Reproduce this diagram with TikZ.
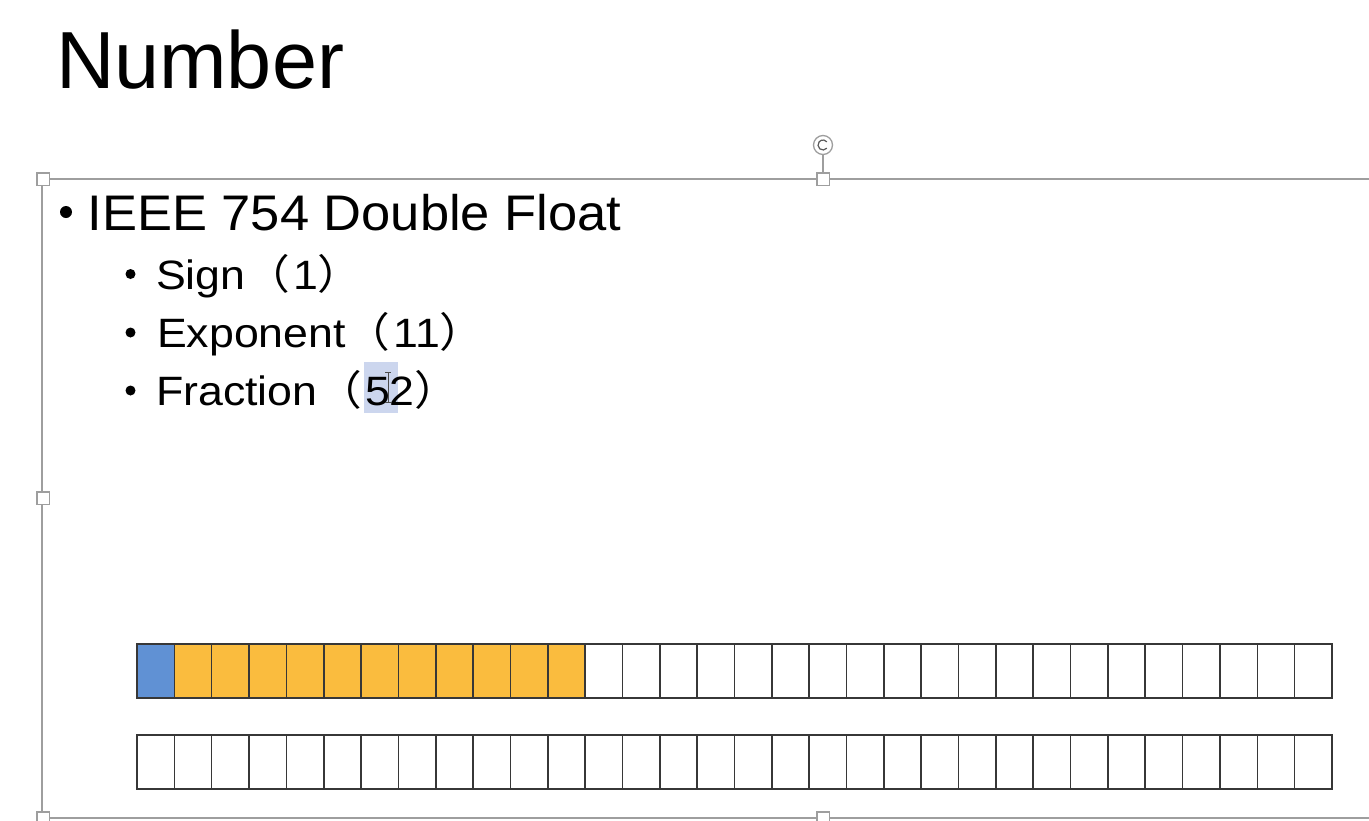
\documentclass[tikz,border=0pt]{standalone}
\usepackage{fontspec}
\setmainfont{Liberation Sans}
\newfontfamily\cjk{Noto Sans CJK SC}
\newfontfamily\wideA[FakeStretch=1.05]{Liberation Sans}
\newfontfamily\wideB[FakeStretch=1.09]{Liberation Sans}
\newfontfamily\cjkB[FakeStretch=1.09]{Noto Sans CJK SC}
\newcommand{\lpar}{{\cjkB （}\kern3pt}
\newcommand{\rpar}{{\cjkB ）}}
\definecolor{signblue}{RGB}{96,145,212}
\definecolor{expgold}{RGB}{250,188,62}
\definecolor{framegray}{RGB}{158,158,158}
\definecolor{celledge}{RGB}{55,55,55}
\definecolor{selblue}{RGB}{204,214,238}
\tikzset{
  txt/.style={anchor=base west, inner sep=0pt, outer sep=0pt},
  handle/.style={draw=framegray, fill=white, line width=1.5pt, minimum size=12.5pt, inner sep=0pt, rectangle},
  frameline/.style={draw=framegray, line width=1.6pt},
  cell/.style={draw=celledge, line width=1.6pt},
  bulletdot/.style={fill=black}
}
\begin{document}
\begin{tikzpicture}[x=1pt,y=-1pt]
\useasboundingbox (0,0) rectangle (1369,820);
\fill[white] (0,0) rectangle (1369,820);
% title
\node[txt] (title) at (56,88) {\fontsize{81}{90}\selectfont Number};
% text frame
\coordinate (ftl) at (42,179);
\coordinate (ftr) at (1369,179);
\coordinate (fbl) at (42,818);
\coordinate (fbr) at (1369,818);
\draw[frameline] (ftr) -- (ftl) -- (fbl) -- (fbr);
\node[handle] (h1) at (43,179) {};
\node[handle] (h2) at (823,179) {};
\node[handle] (h3) at (43,498) {};
\node[handle] (h4) at (43,818) {};
\node[handle] (h5) at (823,818) {};
\node[draw=framegray, fill=white, line width=1.3pt, circle, minimum size=19pt, inner sep=0pt] (rot) at (823,145) {};
\draw[framegray, line width=1.3pt] (h2.north) -- (rot.south);
\draw[gray!70!black, line width=1.2pt] (rot.center) ++(40:5) arc[start angle=40, end angle=320, radius=5];
% selection highlight
\fill[selblue] (364,362) rectangle (398,413);
% bullets
\fill[bulletdot] (66,212) circle[radius=6];
\fill[bulletdot] (130.5,274) circle[radius=5];
\fill[bulletdot] (130.5,332.5) circle[radius=5];
\fill[bulletdot] (130.5,390.5) circle[radius=5];
% text lines
\node[txt] (main) at (87.5,230) {\fontsize{50}{60}\selectfont\wideA IEEE 754 Double Float};
\node[txt] (sign) at (156,289) {\fontsize{41}{50}\selectfont\wideB Sign\lpar 1\rpar};
\node[txt] (expo) at (157,347) {\fontsize{41}{50}\selectfont\wideB Exponent\lpar 11\rpar};
\node[txt] (frac) at (156,405) {\fontsize{41}{50}\selectfont\wideB Fraction\lpar 52\rpar};
% I-beam cursor
\draw[gray!60!black, line width=0.8pt] (388,372) -- (388,402) (385,372) -- (391,372) (385,402) -- (391,402);
% bit cells
\def\cw{37.34375}
\foreach \i in {0,...,31}{
  \pgfmathsetmacro{\xa}{137+\i*\cw}
  \pgfmathsetmacro{\xb}{137+(\i+1)*\cw}
  \ifnum\i=0
    \fill[signblue] (\xa,644) rectangle (\xb,698);
  \else\ifnum\i<12
    \fill[expgold] (\xa,644) rectangle (\xb,698);
  \fi\fi
}
\foreach \i in {0,...,31}{
  \pgfmathsetmacro{\xa}{137+\i*\cw}
  \pgfmathsetmacro{\xb}{137+(\i+1)*\cw}
  \draw[cell] (\xa,644) rectangle (\xb,698);
  \draw[cell] (\xa,735) rectangle (\xb,789);
}
\end{tikzpicture}
\end{document}
